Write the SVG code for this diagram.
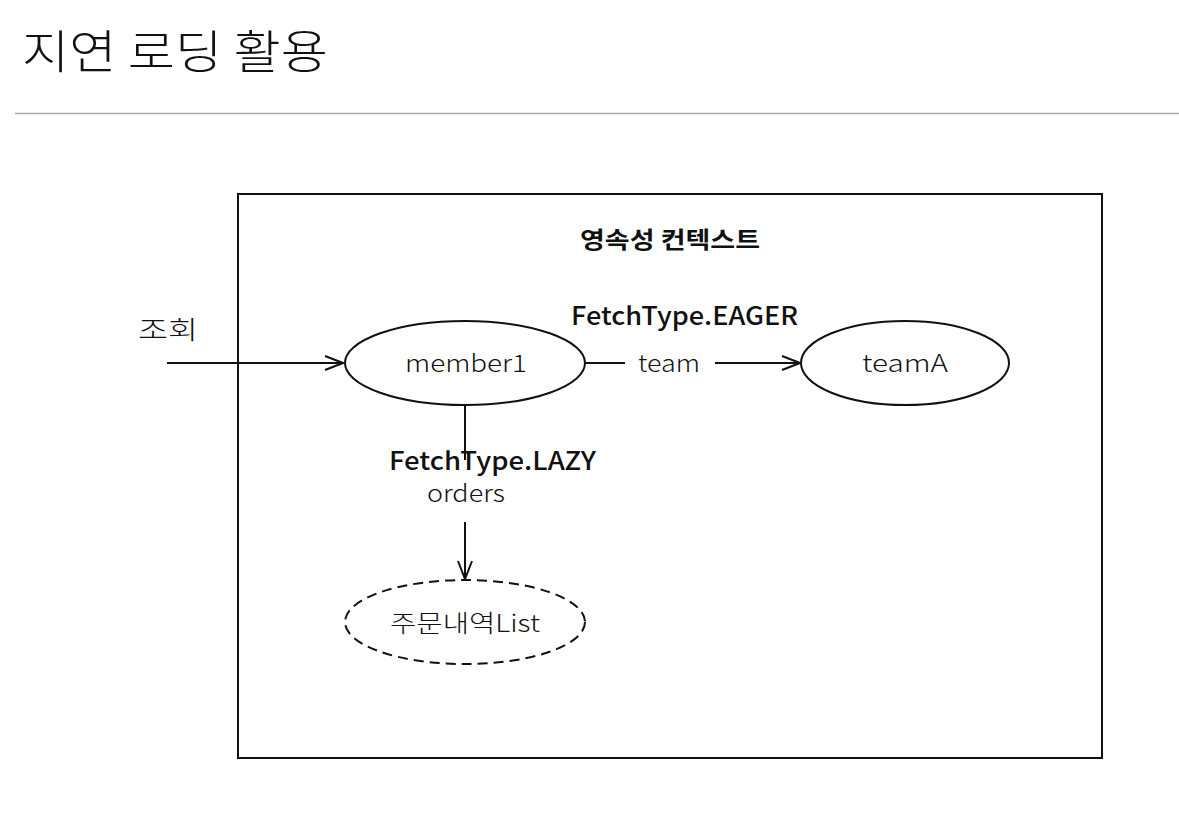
<svg xmlns="http://www.w3.org/2000/svg" width="1179" height="823" viewBox="0 0 1179 823">
<style>
.t{font-family:"Noto Sans CJK KR","Liberation Sans",sans-serif;fill:#111}
.l{font-weight:300}
.ln{stroke:#111;stroke-width:2;fill:none}
</style>
<defs>
<marker id="ah" viewBox="0 0 20 20" refX="19" refY="10" markerWidth="20" markerHeight="20" markerUnits="userSpaceOnUse" orient="auto">
<path d="M1,3 L19,10 L1,17" fill="none" stroke="#111" stroke-width="2"/>
</marker>
</defs>
<rect width="1179" height="823" fill="#fff"/>
<text class="t l" x="22" y="68" font-size="46" textLength="306" lengthAdjust="spacingAndGlyphs">지연 로딩 활용</text>
<line x1="15" y1="113.5" x2="1179" y2="113.5" stroke="#aaa" stroke-width="1.5"/>
<g id="context">
<rect x="238" y="194" width="864" height="564" fill="none" stroke="#111" stroke-width="2"/>
<text class="t" x="580" y="248" font-size="23" font-weight="bold" textLength="180" lengthAdjust="spacingAndGlyphs">영속성 컨텍스트</text>
</g>
<g id="connectors">
<line class="ln" x1="167" y1="363" x2="343" y2="363" marker-end="url(#ah)"/>
<text class="t l" x="138" y="339" font-size="25" textLength="60" lengthAdjust="spacingAndGlyphs">조회</text>
<line class="ln" x1="585" y1="363" x2="625" y2="363"/>
<text class="t l" x="638" y="372" font-size="24" textLength="62" lengthAdjust="spacingAndGlyphs">team</text>
<line class="ln" x1="715" y1="363" x2="800" y2="363" marker-end="url(#ah)"/>
<text class="t" x="571" y="325" font-size="25" font-weight="500" textLength="227" lengthAdjust="spacingAndGlyphs">FetchType.EAGER</text>
<line class="ln" x1="465" y1="405" x2="465" y2="460"/>
<text class="t" x="389" y="470" font-size="25" font-weight="500" textLength="207" lengthAdjust="spacingAndGlyphs">FetchType.LAZY</text>
<text class="t l" x="427" y="502" font-size="24" textLength="78" lengthAdjust="spacingAndGlyphs">orders</text>
<line class="ln" x1="465" y1="522" x2="465" y2="579" marker-end="url(#ah)"/>
</g>
<g id="member1">
<ellipse cx="465" cy="363" rx="120" ry="42" class="ln"/>
<text class="t l" x="405" y="372" font-size="24" textLength="122" lengthAdjust="spacingAndGlyphs">member1</text>
</g>
<g id="teamA">
<ellipse cx="905" cy="363" rx="104" ry="42" class="ln"/>
<text class="t l" x="862" y="372" font-size="24" textLength="86" lengthAdjust="spacingAndGlyphs">teamA</text>
</g>
<g id="orderList">
<ellipse cx="465" cy="622" rx="120" ry="42" class="ln" stroke-dasharray="10,6"/>
<text class="t l" x="390" y="632" font-size="24" textLength="150" lengthAdjust="spacingAndGlyphs">주문내역List</text>
</g>
</svg>
